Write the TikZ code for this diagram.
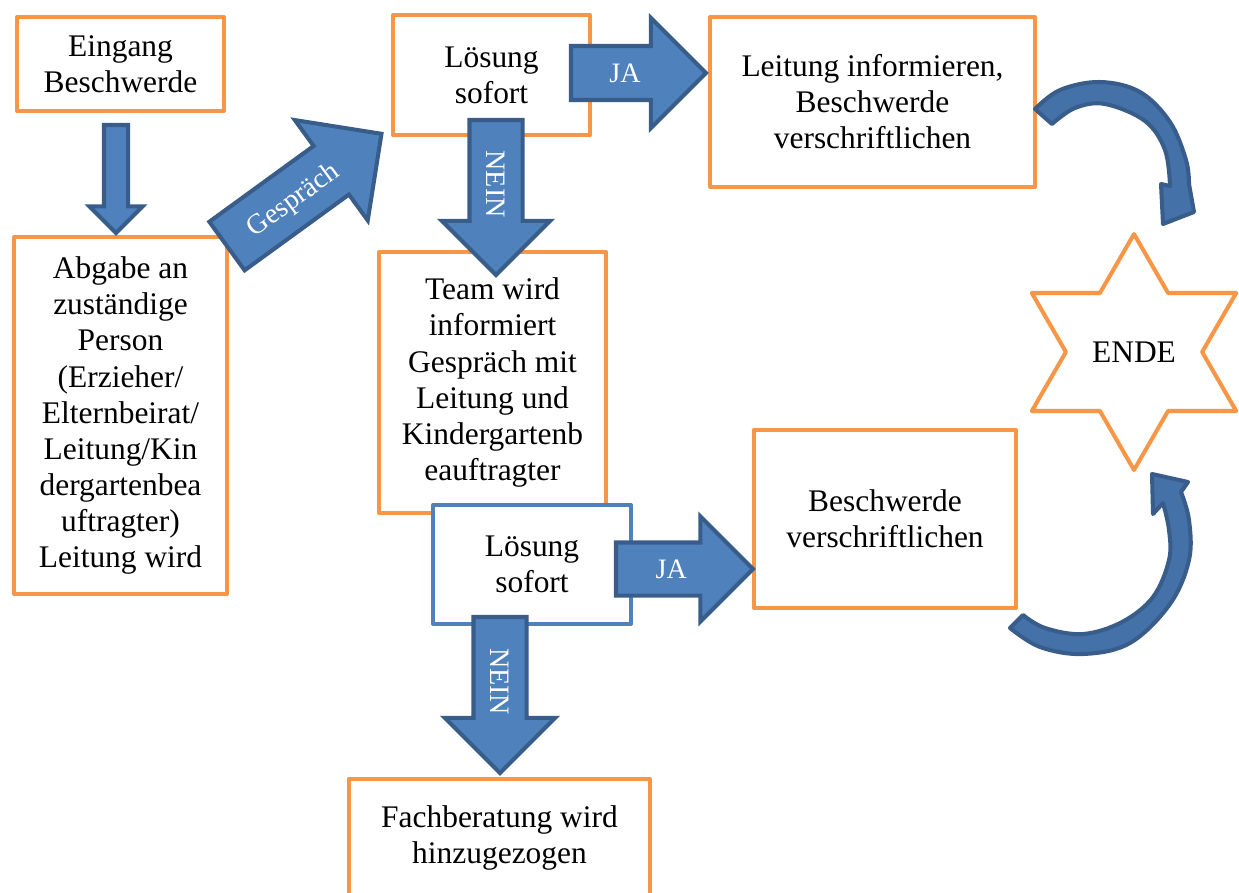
\documentclass[tikz,border=0pt]{standalone}
\usepackage{fontspec}
\setmainfont{Liberation Serif}
\usetikzlibrary{calc,shapes.arrows,shapes.geometric}
\definecolor{boxorange}{HTML}{F79646}
\definecolor{boxblue}{HTML}{4F81BD}
\definecolor{arrowfill}{HTML}{4F81BD}
\definecolor{arrowline}{HTML}{385D8A}
\definecolor{curvefill}{HTML}{4571A9}
\tikzset{
  box/.style={draw=boxorange, fill=white, line width=2.3pt, line join=round,
    inner sep=0pt, outer sep=0pt, align=center, font=\fontsize{17.9}{20.5}\selectfont},
  blockarrow/.style={single arrow, single arrow tip angle=90, fill=arrowfill,
    draw=arrowline, line width=2.3pt, inner sep=0pt, outer sep=0pt, anchor=tail,
    text=white, font=\fontsize{16}{18}\selectfont},
  curvearrow/.style={fill=curvefill, draw=arrowline, line width=2.3pt, line join=round},
}
\begin{document}
\begin{tikzpicture}[x=0.02cm, y=-0.02cm]
\useasboundingbox (0,0) rectangle (1239,892);
\clip (0,0) rectangle (1239,892);

\node[box, minimum width=4.14cm, minimum height=1.88cm] (eingang) at (120.5,64) {Eingang\\Beschwerde};
\node[box, minimum width=4.26cm, minimum height=7.14cm] (abgabe) at (120.5,415.5)
  {Abgabe an\\zuständige\\Person\\(Erzieher/\\Elternbeirat/\\Leitung/Kin\\dergartenbea\\uftragter)\\Leitung wird};
\node[box, minimum width=3.94cm, minimum height=2.40cm] (loesungA) at (491.5,75) {Lösung\\sofort};
\node[box, minimum width=6.50cm, minimum height=3.40cm] (leitung) at (872.5,102)
  {Leitung informieren,\\Beschwerde\\verschriftlichen};
\node[box, minimum width=4.54cm, minimum height=5.22cm] (team) at (492.5,382.5)
  {Team wird\\informiert\\Gespräch mit\\Leitung und\\Kindergartenb\\eauftragter};
\node[box, draw=boxblue, minimum width=3.96cm, minimum height=2.38cm] (loesungB) at (532,564.5) {Lösung\\sofort};
\node[box, minimum width=5.24cm, minimum height=3.56cm] (verschr) at (885,519) {Beschwerde\\verschriftlichen};
\node[box, minimum width=6.02cm, minimum height=2.36cm] (fach) at (499.5,838) {Fachberatung wird\\hinzugezogen};
\node[box, star, star points=6, star point ratio=1.732, minimum size=4.72cm] (ende) at (1134,352) {ENDE};

% Block arrows
\node[blockarrow, rotate=-90, minimum height=2.16cm, minimum width=0.98cm, single arrow head extend=0.29cm,
  text height=0.2cm, text depth=0.2cm] (pfeilA) at ($(eingang.south)+(-4.5,14)$) {};
\node[blockarrow, rotate=36, minimum height=3.82cm, minimum width=2.40cm, single arrow head extend=0.64cm,
  text height=0.75cm, text depth=0.37cm] (pfeilB) at ($(abgabe.north east)+(0,9)$) {Gespräch};
\node[blockarrow, minimum height=2.70cm, minimum width=2.12cm, single arrow head extend=0.56cm,
  text height=0.69cm, text depth=0.31cm] (pfeilC) at ($(loesungA.east)+(-19,-2)$) {JA};
\node[blockarrow, rotate=-90, minimum height=3.10cm, minimum width=2.08cm, single arrow head extend=0.55cm,
  text height=0.68cm, text depth=0.30cm] (pfeilD) at ($(loesungA.south)+(4.5,-15)$) {NEIN};
\node[blockarrow, minimum height=2.74cm, minimum width=2.02cm, single arrow head extend=0.52cm,
  text height=0.68cm, text depth=0.30cm] (pfeilE) at ($(loesungB.east)+(-15,4.5)$) {JA};
\node[blockarrow, rotate=-90, minimum height=3.12cm, minimum width=2.12cm, single arrow head extend=0.57cm,
  text height=0.68cm, text depth=0.30cm] (pfeilF) at ($(loesungB.south)+(-32,-7)$) {NEIN};

% Curved arrows to the end
\draw[curvearrow] plot[smooth, tension=0.6] coordinates {(1035,109) (1060,90) (1100,82) (1140,92) (1170,122) (1186,160) (1189,184)}
  -- (1194,212) -- (1163,224) -- (1161,184) -- (1170,186)
  -- plot[smooth, tension=0.6] coordinates {(1170,186) (1165,150) (1145,121) (1105,104) (1075,108) (1052,124)} -- cycle;
\draw[curvearrow] plot[smooth, tension=0.6] coordinates {(1010,628) (1040,647) (1083,654) (1130,643) (1170,604) (1189,560) (1189,520) (1181,492)}
  -- (1188,482) -- (1152,474) -- (1153,514) -- (1163,503)
  -- plot[smooth, tension=0.6] coordinates {(1163,503) (1169,530) (1169,560) (1153,597) (1122,622) (1083,634) (1045,628) (1023,615)} -- cycle;
\end{tikzpicture}
\end{document}
